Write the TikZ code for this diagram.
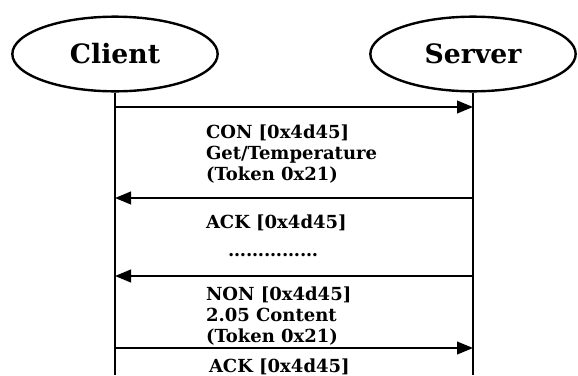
\documentclass[tikz,border=0pt]{standalone}
\usepackage{fontspec}
\setmainfont{DejaVu Serif}
\usetikzlibrary{arrows,arrows.meta,positioning,shapes.geometric}

\begin{document}
\begin{tikzpicture}[->, >={Triangle[length=12pt,width=9.5pt]}, x=0.75pt, y=-0.75pt, line width=1.5pt]
	\tikzstyle{party}=[ellipse,draw=black,line width=1.8pt,minimum width=154pt,minimum height=56pt,font=\bfseries\fontsize{20}{24}\selectfont]
	\tikzstyle{msg}=[anchor=west,align=left,inner sep=0pt,font=\bfseries\fontsize{13.5}{15.75}\selectfont]
	\tikzstyle{lifeline}=[-,line width=2pt]
	\useasboundingbox (0,0) rectangle (578,375);
	\node[party]    (client) at (115,54)  {Client};
	\node[party]    (server) at (473,54)  {Server};
	\coordinate (cend) at (client.south |- 0,375);
	\coordinate (send) at (server.south |- 0,375);
	\draw[lifeline] (client) -- (cend);
	\draw[lifeline] (server) -- (send);
	\foreach \n/\y in {1/107,2/198,3/276,4/348}{
		\coordinate (c\n) at (client.south |- 0,\y);
		\coordinate (s\n) at (server.south |- 0,\y);
	}
	\draw (c1) -- (s1);
	\draw (s2) -- (c2);
	\draw (s3) -- (c3);
	\draw (c4) -- (s4);
	\node[msg] (con)  at (205,154) {CON [0x4d45]\\Get/Temperature\\(Token 0x21)};
	\node[msg] (ack1) at (205,223) {ACK [0x4d45]};
	\node[msg] (dots) at (227,255) {……………};
	\node[msg] (non)  at (205,316) {NON [0x4d45]\\2.05 Content\\(Token 0x21)};
	\node[msg] (ack2) at (208,367) {ACK [0x4d45]};
\end{tikzpicture}
\end{document}
